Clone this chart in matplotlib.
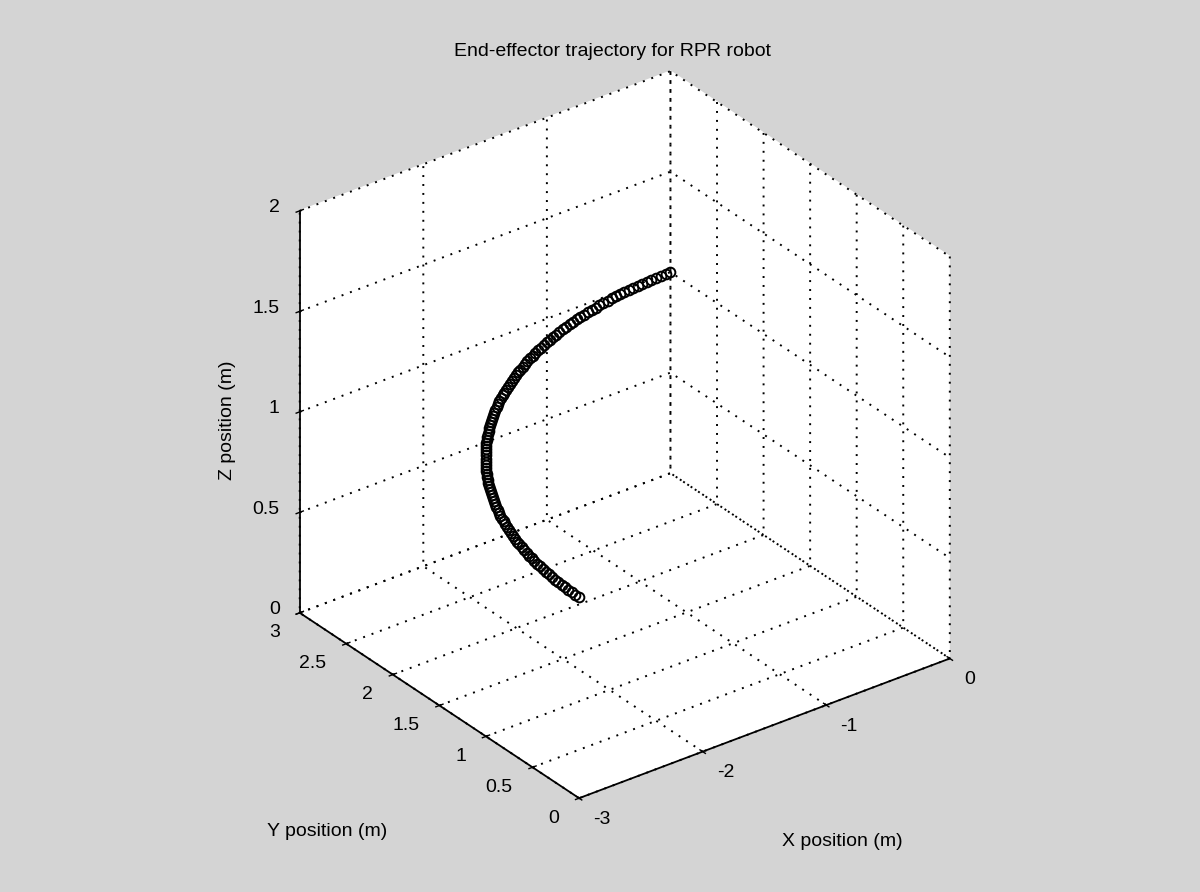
import numpy as np
import matplotlib
matplotlib.use("Agg")
import matplotlib.pyplot as plt
from mpl_toolkits.mplot3d import proj3d

# base joint angle (deg) for each sample; radius and height of the end-effector path
theta_deg = [90, 90.75, 91.5, 92.25, 93, 93.75, 94.5, 95.25, 96, 96.75, 97.5, 98.25,
             99, 99.75, 100.5, 101.25, 102, 102.75, 103.5, 104.25, 105, 105.75, 106.5,
             107.25, 108, 108.75, 109.5, 110.25, 111, 111.75, 112.5, 113.25, 114, 114.75,
             115.5, 116.25, 117, 117.75, 118.5, 119.25, 120, 120.75, 121.5, 122.25, 123,
             123.75, 124.5, 125.25, 126, 126.75, 127.5, 128.25, 129, 129.75, 130.5, 131.25,
             132, 132.75, 133.5, 134.25, 135, 135.75, 136.5, 137.25, 138, 138.75, 139.5,
             140.25, 141, 141.75, 142.5, 143.25, 144, 144.75, 145.5, 146.25, 147, 147.75,
             148.5, 149.25, 150, 150.75, 151.5, 152.25, 153, 153.75, 154.5, 155.25, 156,
             156.75, 157.5, 158.25, 159, 159.75, 160.5, 161.25, 162, 162.75, 163.5, 164.25,
             165, 165.75, 166.5, 167.25, 168, 168.75, 169.5, 170.25, 171, 171.75, 172.5,
             173.25, 174, 174.75, 175.5, 176.25, 177, 177.75, 178.5, 179.25, 180]
radius = 3.0
height = 1.0

x_ticks = [-3, -2, -1, 0]
y_ticks = [0, 0.5, 1, 1.5, 2, 2.5, 3]
z_ticks = [0, 0.5, 1, 1.5, 2]

th = np.radians(theta_deg)
xs = radius * np.cos(th)
ys = radius * np.sin(th)
zs = np.full_like(xs, height)

W, H = 1200, 892
bg = "#d4d4d4"
fs = 14
plt.rcParams["font.family"] = ["Liberation Sans", "DejaVu Sans"]

fig = plt.figure(figsize=(W / 100, H / 100), dpi=100, facecolor=bg)
ax = fig.add_axes([0.0106, -0.0008, 1, 1], projection="3d", proj_type="ortho")
ax.set_facecolor(bg)
ax.view_init(elev=30, azim=233)
ax.set_box_aspect((1, 1, 1), zoom=0.875)

ax.plot(xs, ys, zs, linestyle="none", marker="o", markersize=7,
        markerfacecolor="none", markeredgecolor="k", markeredgewidth=1.4)

ax.set_xlim(-3, 0)
ax.set_ylim(0, 3)
ax.set_zlim(0, 2)
ax.set_xticks(x_ticks)
ax.set_yticks(y_ticks)
ax.set_zticks(z_ticks)
ax.set_xticklabels([])
ax.set_yticklabels([])
ax.set_zticklabels([])

for axis in (ax.xaxis, ax.yaxis, ax.zaxis):
    axis.set_pane_color((1, 1, 1, 1))
    axis.pane.set_edgecolor((1, 1, 1, 0))
    axis.line.set_color("k")
    axis.line.set_linewidth(1.3)
    axis._axinfo["grid"].update(color="k", linestyle=(0, (1, 3.6)), linewidth=1.4)
    axis._axinfo["tick"]["inward_factor"] = 0.12
    axis._axinfo["tick"]["outward_factor"] = 0.12
    axis._axinfo["tick"]["linewidth"] = {True: 1.0, False: 1.0}
    axis._axinfo["tick"]["color"] = "k"

# tick labels are placed by hand next to the projected tick positions (MATLAB style)
fig.canvas.draw()
M = ax.get_proj()


def to_px(a, b, c):
    px, py, _ = proj3d.proj_transform(a, b, c, M)
    dx, dy = ax.transData.transform((px, py))
    return dx, H - dy


def put(xp, yp, s, **kw):
    fig.text(xp / W, 1 - yp / H, s, fontsize=fs, **kw)


for v in x_ticks:
    px, py = to_px(v, 0, 0)
    put(px + 14, py + 21, f"{v:g}", ha="left", va="center")
for v in y_ticks:
    px, py = to_px(-3, v, 0)
    put(px - 20, py + 20, f"{v:g}", ha="right", va="center")
for v in z_ticks:
    px, py = to_px(-3, 3, v)
    put(px - 20, py - 3, f"{v:g}", ha="right", va="center")

put(612, 52, "End-effector trajectory for RPR robot", ha="center", va="center")
put(227, 420, "Z position (m)", ha="center", va="center", rotation=90)
put(327, 832, "Y position (m)", ha="center", va="center")
put(842, 842, "X position (m)", ha="center", va="center")

fig.savefig("out.png", dpi=100, facecolor=bg)
